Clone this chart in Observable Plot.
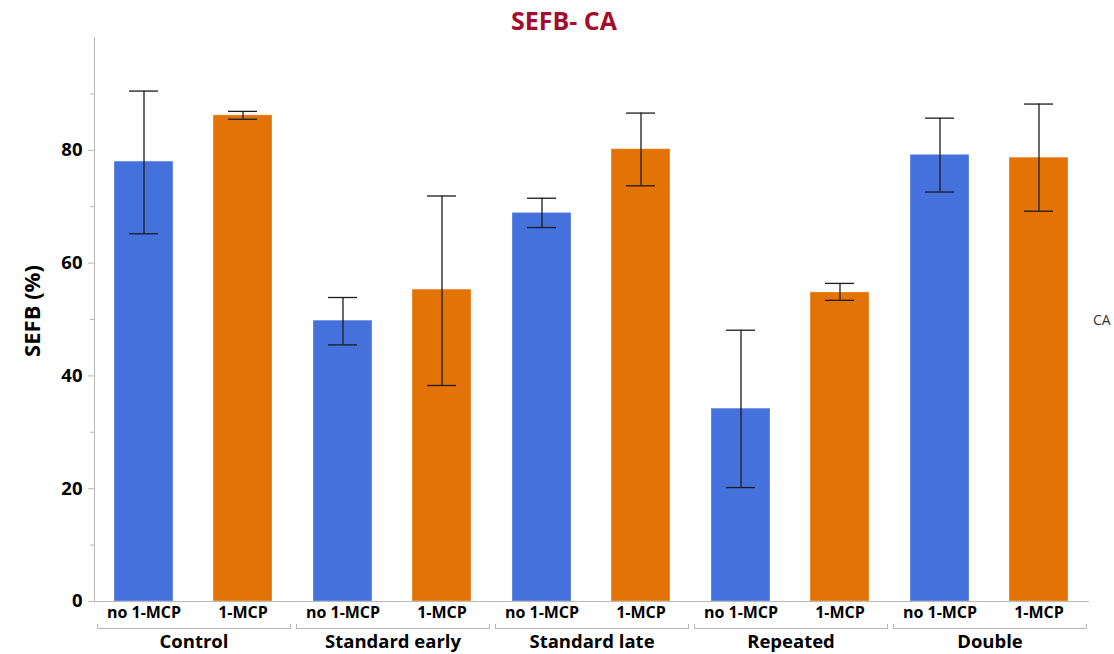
<!DOCTYPE html>
<html>
<head>
<meta charset="utf-8">
<script src="https://cdn.jsdelivr.net/npm/d3@7"></script>
<script src="https://cdn.jsdelivr.net/npm/@observablehq/plot@0.6"></script>
<style>
  html, body { margin: 0; padding: 0; background: #fff; }
  body { font-family: "Open Sans", "Noto Sans", sans-serif; }
  #wrap { position: relative; width: 1114px; height: 654px; }
  #title {
    position: absolute; top: 3px; left: 564px; transform: translateX(-50%);
    font-size: 25px; font-weight: 700; color: #a30d2d; white-space: nowrap;
  }
  #ylabel {
    position: absolute; left: 31px; top: 311px;
    transform: translate(-50%, -50%) rotate(-90deg);
    font-size: 22px; font-weight: 700; color: #000; white-space: nowrap;
  }
  #legend {
    position: absolute; left: 1093px; top: 310px;
    font-size: 14px; color: #333;
  }
  #chart { position: absolute; left: 0; top: 0; }
</style>
</head>
<body>
<div id="wrap">
  <div id="chart"></div>
  <div id="title">SEFB- CA</div>
  <div id="ylabel">SEFB (%)</div>
  <div id="legend">CA</div>
</div>
<script>
// Harvest timing groups and treatments
const groups = ["Control", "Standard early", "Standard late", "Repeated", "Double"];
const treatments = ["no 1-MCP", "1-MCP"];

// SEFB (%) means and error bar bounds per group
const noMcpMean = [78.0, 49.8, 68.9, 34.2, 79.2];
const noMcpLow  = [65.2, 45.5, 66.3, 20.2, 72.6];
const noMcpHigh = [90.5, 53.9, 71.5, 48.1, 85.7];

const mcpMean = [86.2, 55.3, 80.2, 54.8, 78.7];
const mcpLow  = [85.5, 38.3, 73.7, 53.4, 69.2];
const mcpHigh = [86.9, 71.9, 86.6, 56.4, 88.2];

const majorTicks = [0, 20, 40, 60, 80];
const minorTicks = [10, 30, 50, 70, 90];

const treatmentColors = ["#4471dc", "#e37305"];

const rows = [];
groups.forEach((g, i) => {
  rows.push({group: g, treatment: treatments[0], value: noMcpMean[i], lo: noMcpLow[i], hi: noMcpHigh[i]});
  rows.push({group: g, treatment: treatments[1], value: mcpMean[i], lo: mcpLow[i], hi: mcpHigh[i]});
});

const W = 1114, H = 654;
const mTop = 37, mBottom = 53, mLeft = 93, mRight = 24;
const innerH = H - mTop - mBottom;
const axisGray = "#b8b8b8";
const errColor = "#1c1c1c";

const chart = Plot.plot({
  width: W,
  height: H,
  marginTop: mTop,
  marginBottom: mBottom,
  marginLeft: mLeft,
  marginRight: mRight,
  style: {fontFamily: "'Open Sans', 'Noto Sans', sans-serif", background: "white", overflow: "visible"},
  fx: {domain: groups, padding: 0},
  x: {domain: treatments, paddingInner: 0.4, paddingOuter: 0.2},
  y: {domain: [0, 100]},
  color: {domain: treatments, range: treatmentColors},
  marks: [
    // y axis: line, major and minor ticks, labels
    Plot.frame({anchor: "left", facetAnchor: "left", stroke: axisGray}),
    Plot.axisY({ticks: majorTicks, tickSize: 6, text: null, stroke: axisGray, label: null}),
    Plot.axisY({ticks: minorTicks, tickSize: 4, text: null, stroke: axisGray, label: null}),
    Plot.axisY({ticks: majorTicks, tickSize: 0, tickPadding: 12, fontSize: 18.5, fontWeight: "bold", fill: "#000", label: null}),
    // treatment labels under each bar, group labels under the brackets
    Plot.axisX({tickSize: 0, tickPadding: 5, fontSize: 16, fontWeight: "bold", fill: "#000", label: null}),
    Plot.axisFx({anchor: "bottom", tickSize: 0, tickPadding: 33, fontSize: 18.5, fontWeight: "bold", fill: "#000", label: null}),
    // group brackets
    Plot.frame({anchor: "bottom", dy: 27, insetLeft: 3, insetRight: 3, stroke: axisGray}),
    Plot.frame({anchor: "left", dy: 27, insetLeft: 3, insetTop: innerH - 4, stroke: axisGray}),
    Plot.frame({anchor: "right", dy: 27, insetRight: 3, insetTop: innerH - 4, stroke: axisGray}),
    // bars
    Plot.barY(rows, {fx: "group", x: "treatment", y: "value", fill: "treatment", stroke: "white", strokeOpacity: 0.35, strokeWidth: 1}),
    // baseline
    Plot.ruleY([0], {stroke: axisGray}),
    // error bars
    Plot.ruleX(rows, {fx: "group", x: "treatment", y1: "lo", y2: "hi", stroke: errColor, strokeWidth: 1.3}),
    Plot.tickY(rows, {fx: "group", x: "treatment", y: "hi", insetLeft: 15, insetRight: 15, stroke: errColor, strokeWidth: 1.3}),
    Plot.tickY(rows, {fx: "group", x: "treatment", y: "lo", insetLeft: 15, insetRight: 15, stroke: errColor, strokeWidth: 1.3})
  ]
});

document.getElementById("chart").appendChild(chart);
</script>
</body>
</html>
